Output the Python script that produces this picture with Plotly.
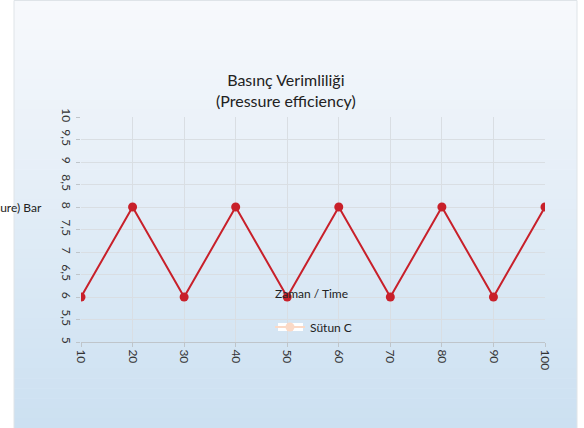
import plotly.graph_objects as go

# ---- data ----
x_time = [10, 20, 30, 40, 50, 60, 70, 80, 90, 100]
y_pressure = [6, 8, 6, 8, 6, 8, 6, 8, 6, 8]
series_name = "Sütun C"
y_tickvals = [5, 5.5, 6, 6.5, 7, 7.5, 8, 8.5, 9, 9.5, 10]
y_ticktext = ["5", "5,5", "6", "6,5", "7", "7,5", "8", "8,5", "9", "9,5", "10"]
x_tickvals = [10, 20, 30, 40, 50, 60, 70, 80, 90, 100]

W, H = 584, 428
L, R, T, B = 81, 39, 117, 86
pw, ph = W - L - R, H - T - B

def px2x(px):
    return (px - L) / pw

def py2y(py):
    return (H - B - py) / ph

FONT = "Lato"
fig = go.Figure()

fig.add_trace(go.Scatter(
    x=x_time, y=y_pressure, mode="lines+markers",
    line=dict(color="#c8202a", width=2),
    marker=dict(color="#c8202a", size=9),
    showlegend=False, name=series_name,
))
fig.add_trace(go.Scatter(
    x=[None], y=[None], mode="lines+markers", name=series_name,
    line=dict(color="#fbd9c6", width=2),
    marker=dict(color="#fbd9c6", size=9),
))

# gradient panel background (bands)
shapes = []
top_c = (247, 249, 252)
bot_c = (204, 224, 241)
n = 43
for i in range(n):
    t = i / (n - 1)
    c = tuple(round(top_c[k] + (bot_c[k] - top_c[k]) * t) for k in range(3))
    y0p = i * H / n
    y1p = (i + 1) * H / n + 0.6
    shapes.append(dict(type="rect", xref="paper", yref="paper", layer="below",
                       x0=px2x(14), x1=px2x(577), y0=py2y(y1p), y1=py2y(y0p),
                       fillcolor="rgb(%d,%d,%d)" % c, line=dict(width=0)))
shapes.append(dict(type="rect", xref="paper", yref="paper", layer="below",
                   x0=px2x(14), x1=px2x(577), y0=py2y(H + 2), y1=py2y(0.5),
                   fillcolor="rgba(0,0,0,0)", line=dict(color="#dfe4e8", width=1)))
# white backing of legend symbol
shapes.append(dict(type="rect", xref="paper", yref="paper", layer="below",
                   x0=px2x(278), x1=px2x(303), y0=py2y(331), y1=py2y(323),
                   fillcolor="white", line=dict(width=0)))

annotations = [
    dict(text="Basınç Verimliliği<br>(Pressure efficiency)", xref="paper", yref="paper",
         x=px2x(286), y=py2y(90), xanchor="center", yanchor="middle", showarrow=False,
         font=dict(family=FONT, size=16, color="#222")),
    dict(text="Zaman / Time", xref="paper", yref="paper",
         x=px2x(311), y=py2y(293), xanchor="center", yanchor="middle", showarrow=False,
         font=dict(family=FONT, size=12, color="#222")),
    dict(text="(Pressure) Bar", xref="paper", yref="paper",
         x=px2x(44), y=py2y(207), xanchor="right", yanchor="middle", showarrow=False,
         font=dict(family=FONT, size=12, color="#222")),
]

fig.update_layout(
    width=W, height=H,
    margin=dict(l=L, r=R, t=T, b=B, autoexpand=False),
    paper_bgcolor="white", plot_bgcolor="rgba(0,0,0,0)",
    font=dict(family=FONT, size=12, color="#333"),
    shapes=shapes, annotations=annotations,
    legend=dict(x=px2x(270), y=py2y(327), xanchor="left", yanchor="middle",
                bgcolor="rgba(0,0,0,0)", font=dict(family=FONT, size=12, color="#222"),
                itemwidth=30),
    showlegend=True,
)
fig.update_xaxes(range=[10, 100], tickvals=x_tickvals, tickangle=90,
                 showgrid=True, gridcolor="#d9dee3", gridwidth=1,
                 showline=True, linecolor="#bfc5ca", ticks="outside", ticklen=4,
                 tickcolor="#bfc5ca", zeroline=False, fixedrange=True,
                 tickfont=dict(family=FONT, size=12, color="#333"))
fig.update_yaxes(range=[5, 10], tickvals=y_tickvals, ticktext=y_ticktext, tickangle=90,
                 showgrid=True, gridcolor="#d9dee3", gridwidth=1,
                 showline=False, ticks="outside", ticklen=4, tickcolor="#bfc5ca",
                 zeroline=False, fixedrange=True,
                 tickfont=dict(family=FONT, size=12, color="#333"))

fig.write_html("out.html")
